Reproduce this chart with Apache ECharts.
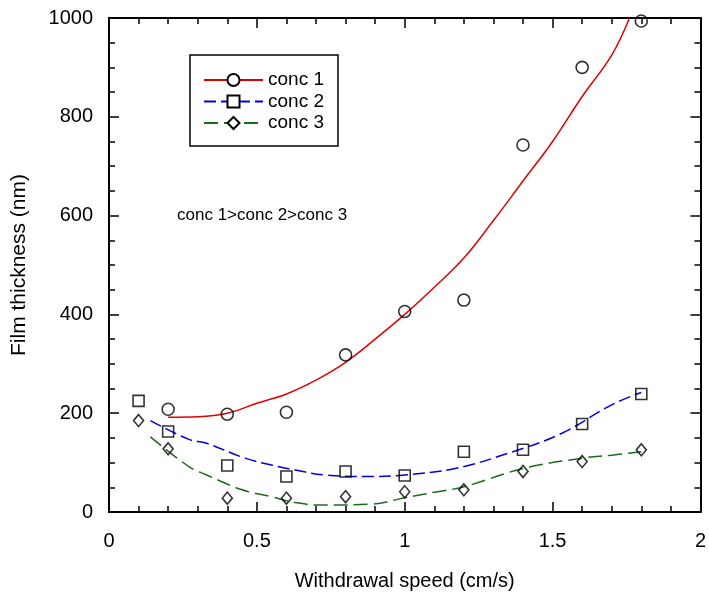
<!DOCTYPE html>
<html>
<head>
<meta charset="utf-8">
<script src="https://cdn.jsdelivr.net/npm/echarts@6/dist/echarts.min.js"></script>
<style>
html,body{margin:0;padding:0;background:#fff;}
#chart{width:709px;height:601px;}
</style>
</head>
<body>
<div id="chart"></div>
<script>
// Measured data points
var speeds = [0.1, 0.2, 0.4, 0.6, 0.8, 1.0, 1.2, 1.4, 1.6, 1.8];
var conc1 = [null, 208, 198, 202, 318, 406, 429, 743, 900, 994];
var conc2 = [225, 163, 94, 72, 82, 74, 122, 126, 178, 239];
var conc3 = [185, 128, 28, 28, 31, 41, 45, 82, 102, 126];

// Fitted curves
var fit1X = [0.2, 0.3, 0.4, 0.5, 0.6, 0.7, 0.8, 0.9, 1.0, 1.1, 1.2, 1.3, 1.4, 1.5, 1.6, 1.7, 1.76];
var fit1Y = [192, 193, 200, 220, 239, 267, 303, 350, 400, 455, 514, 590, 670, 750, 841, 925, 1000];
var fit2X = [0.14, 0.27, 0.33, 0.46, 0.55, 0.63, 0.73, 0.89, 1.0, 1.17, 1.35, 1.53, 1.7, 1.8];
var fit2Y = [185, 147, 139, 109, 95, 85, 75, 72, 75, 88, 119, 159, 217, 242];
var fit3X = [0.14, 0.27, 0.33, 0.45, 0.55, 0.63, 0.72, 0.89, 1.0, 1.1, 1.2, 1.4, 1.6, 1.7, 1.8];
var fit3Y = [152, 92, 75, 45, 31, 19, 14, 16, 29, 40, 51, 88, 109, 115, 122];

var seriesNames = ['conc 1', 'conc 2', 'conc 3'];
var annotation = 'conc 1>conc 2>conc 3';
var xTitle = 'Withdrawal speed (cm/s)';
var yTitle = 'Film thickness (nm)';

function pairs(xs, ys) {
  var out = [];
  for (var i = 0; i < xs.length; i++) { if (ys[i] !== null) out.push([xs[i], ys[i]]); }
  return out;
}

var FONT = 'Liberation Sans, Arial, sans-serif';
var axisCommon = {
  axisLine: { show: true, onZero: false, lineStyle: { color: '#000', width: 2 } },
  axisTick: { show: true, inside: true, length: 10, lineStyle: { color: '#000', width: 1.5 } },
  splitLine: { show: false }
};
function mk(extra) { return Object.assign({}, JSON.parse(JSON.stringify(axisCommon)), extra); }
function plain(v) { return String(v); }

var chart = echarts.init(document.getElementById('chart'), null, { renderer: 'canvas' });
var option = {
  animation: false,
  backgroundColor: '#fff',
  textStyle: { fontFamily: FONT },
  grid: { left: 109, right: 4, top: 18, bottom: 89, containLabel: false },
  xAxis: [
    mk({ type: 'value', min: 0, max: 2, interval: 0.5, position: 'bottom',
      minorTick: { show: true, splitNumber: 5, length: 6, lineStyle: { color: '#000', width: 1.5 } },
      axisLabel: { color: '#000', fontSize: 20, fontFamily: FONT, margin: 19, formatter: plain },
      name: xTitle, nameLocation: 'middle', nameGap: 59,
      nameTextStyle: { color: '#000', fontSize: 20, fontFamily: FONT } }),
    mk({ type: 'value', min: 0, max: 2, interval: 0.5, position: 'top',
      minorTick: { show: true, splitNumber: 5, length: 6, lineStyle: { color: '#000', width: 1.5 } },
      axisLabel: { show: false } })
  ],
  yAxis: [
    mk({ type: 'value', min: 0, max: 1000, interval: 200, position: 'left',
      minorTick: { show: true, splitNumber: 4, length: 6, lineStyle: { color: '#000', width: 1.5 } },
      axisLabel: { color: '#000', fontSize: 20, fontFamily: FONT, margin: 16, formatter: plain },
      name: yTitle, nameLocation: 'middle', nameGap: 79,
      nameTextStyle: { color: '#000', fontSize: 21, fontFamily: FONT } }),
    mk({ type: 'value', min: 0, max: 1000, interval: 200, position: 'right',
      minorTick: { show: true, splitNumber: 4, length: 6, lineStyle: { color: '#000', width: 1.5 } },
      axisLabel: { show: false } })
  ],
  legend: {
    data: seriesNames,
    orient: 'vertical',
    left: 190, top: 55,
    padding: [15, 14, 13, 13],
    itemWidth: 59, itemHeight: 15, itemGap: 1.5,
    borderColor: '#000', borderWidth: 1.5,
    textStyle: { color: '#000', fontSize: 19, lineHeight: 20, fontFamily: FONT },
    inactiveColor: '#000'
  },
  graphic: [
    { type: 'text', left: 177, top: 207,
      style: { text: annotation, fill: '#000', font: '17px ' + FONT } }
  ],
  series: [
    { name: 'conc 1', type: 'line', data: pairs(fit1X, fit1Y), smooth: 0.4,
      showSymbol: false, symbol: 'emptyCircle', itemStyle: { color: '#000' },
      lineStyle: { color: '#e00000', width: 1.5, type: 'solid' }, clip: true, z: 2 },
    { name: 'conc 2', type: 'line', data: pairs(fit2X, fit2Y), smooth: 0.4,
      showSymbol: false, symbol: 'emptyRect', itemStyle: { color: '#000' },
      lineStyle: { color: '#0000e0', width: 1.5, type: [12, 5] }, clip: true, z: 2 },
    { name: 'conc 3', type: 'line', data: pairs(fit3X, fit3Y), smooth: 0.4,
      showSymbol: false, symbol: 'emptyDiamond', itemStyle: { color: '#000' },
      lineStyle: { color: '#1a6b1a', width: 1.5, type: [14, 6] }, clip: true, z: 2 },
    { name: 'conc 1 data', type: 'scatter', data: pairs(speeds, conc1), symbol: 'circle', symbolSize: 12,
      itemStyle: { color: 'rgba(0,0,0,0)', borderColor: '#000', borderWidth: 1.6 }, z: 3 },
    { name: 'conc 2 data', type: 'scatter', data: pairs(speeds, conc2), symbol: 'rect', symbolSize: 11,
      itemStyle: { color: 'rgba(0,0,0,0)', borderColor: '#000', borderWidth: 1.6 }, z: 3 },
    { name: 'conc 3 data', type: 'scatter', data: pairs(speeds, conc3), symbol: 'diamond', symbolSize: [10, 12],
      itemStyle: { color: 'rgba(0,0,0,0)', borderColor: '#000', borderWidth: 1.6 }, z: 3 }
  ]
};
chart.setOption(option);
</script>
</body>
</html>
